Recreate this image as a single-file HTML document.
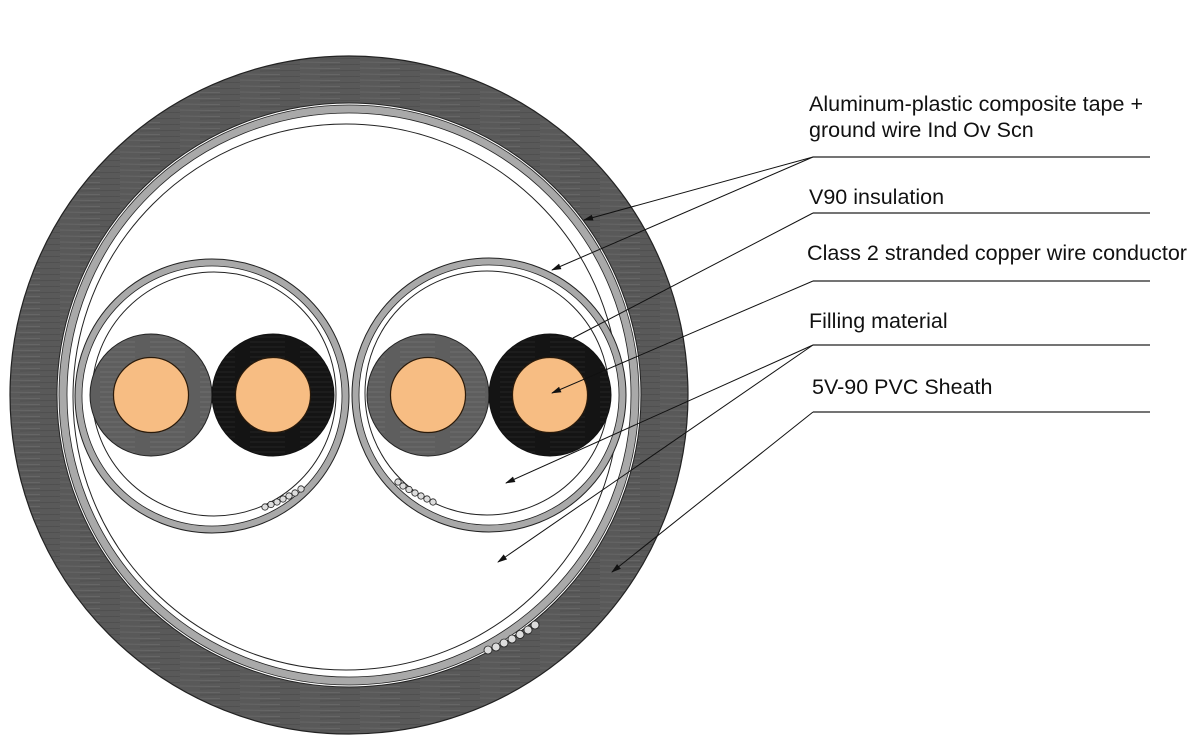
<!DOCTYPE html>
<html><head><meta charset="utf-8"><style>
html,body{margin:0;padding:0;background:#fff;}
svg{display:block;}
text{font-family:"Liberation Sans",Arial,sans-serif;font-size:21.5px;fill:#111;}
</style></head><body>
<svg width="1194" height="744" viewBox="0 0 1194 744" xmlns="http://www.w3.org/2000/svg">
<defs>
<marker id="ar" markerWidth="10" markerHeight="8" refX="9" refY="4" orient="auto" markerUnits="userSpaceOnUse">
<path d="M0,1 L10,4 L0,7 Z" fill="#111"/></marker>
<pattern id="st" width="60" height="6" patternUnits="userSpaceOnUse">
<rect width="60" height="6" fill="#595959"/>
<line x1="0" y1="2" x2="40" y2="2.5" stroke="#6a6a6a" stroke-width="0.8"/>
<line x1="20" y1="5" x2="60" y2="4.5" stroke="#4c4c4c" stroke-width="0.8"/>
</pattern>
<pattern id="bk" width="50" height="5" patternUnits="userSpaceOnUse">
<rect width="50" height="5" fill="#141414"/>
<line x1="0" y1="2" x2="35" y2="2" stroke="#2a2a2a" stroke-width="0.8"/>
</pattern>
<pattern id="gy" width="50" height="5" patternUnits="userSpaceOnUse">
<rect width="50" height="5" fill="#5e5e5e"/>
<line x1="0" y1="2" x2="35" y2="2" stroke="#727272" stroke-width="0.8"/>
</pattern>
</defs>

<circle cx="349" cy="395" r="339" fill="url(#st)" stroke="#222" stroke-width="1.2"/>
<circle cx="349" cy="395" r="292" fill="#fff" stroke="#222" stroke-width="1"/>
<circle cx="349" cy="395" r="290" fill="#a9a9a9" stroke="#222" stroke-width="0.8"/>
<circle cx="349" cy="395" r="282" fill="#fff" stroke="#222" stroke-width="0.8"/>
<circle cx="346" cy="397" r="273" fill="#fff" stroke="#222" stroke-width="1"/>

<circle cx="212" cy="396" r="137" fill="#a9a9a9" stroke="#222" stroke-width="1"/>
<circle cx="212" cy="396" r="130" fill="#fff" stroke="#222" stroke-width="0.8"/>
<circle cx="214" cy="394" r="122" fill="none" stroke="#222" stroke-width="1"/>
<circle cx="489" cy="395" r="137" fill="#a9a9a9" stroke="#222" stroke-width="1"/>
<circle cx="489" cy="395" r="130" fill="#fff" stroke="#222" stroke-width="0.8"/>
<circle cx="487" cy="393" r="122" fill="none" stroke="#222" stroke-width="1"/>

<circle cx="151" cy="395" r="61" fill="url(#gy)" stroke="#222" stroke-width="1"/>
<circle cx="151" cy="395" r="37.5" fill="#f7bd83" stroke="#2a1a0a" stroke-width="1.2"/>
<circle cx="273" cy="395" r="61" fill="url(#bk)" stroke="#111" stroke-width="1"/>
<circle cx="273" cy="395" r="37.5" fill="#f7bd83" stroke="#2a1a0a" stroke-width="1.2"/>
<circle cx="428" cy="395" r="61" fill="url(#gy)" stroke="#222" stroke-width="1"/>
<circle cx="428" cy="395" r="37.5" fill="#f7bd83" stroke="#2a1a0a" stroke-width="1.2"/>
<circle cx="550" cy="395" r="61" fill="url(#bk)" stroke="#111" stroke-width="1"/>
<circle cx="550" cy="395" r="37.5" fill="#f7bd83" stroke="#2a1a0a" stroke-width="1.2"/>

<g fill="#ddd" stroke="#222" stroke-width="0.8">
<circle cx="265" cy="507" r="3.2"/><circle cx="271" cy="504.5" r="3.2"/><circle cx="277" cy="502" r="3.2"/><circle cx="283" cy="499" r="3.2"/><circle cx="289" cy="496" r="3.2"/><circle cx="295" cy="493" r="3.2"/><circle cx="301" cy="489" r="3.2"/>
<circle cx="398" cy="482" r="3.2"/><circle cx="403" cy="486" r="3.2"/><circle cx="409" cy="489.5" r="3.2"/><circle cx="415" cy="493" r="3.2"/><circle cx="421" cy="496" r="3.2"/><circle cx="427" cy="499" r="3.2"/><circle cx="433" cy="502" r="3.2"/>
<circle cx="488" cy="650" r="4"/><circle cx="496" cy="647" r="4"/><circle cx="504" cy="643" r="4"/><circle cx="512" cy="639" r="4"/><circle cx="520" cy="634.5" r="4"/><circle cx="528" cy="630" r="4"/><circle cx="535" cy="625" r="4"/>
</g>

<text x="809" y="111">Aluminum-plastic composite tape +</text>
<text x="809" y="137">ground wire Ind Ov Scn</text>
<text x="809" y="204">V90 insulation</text>
<text x="807" y="260" textLength="380" lengthAdjust="spacingAndGlyphs">Class 2 stranded copper wire conductor</text>
<text x="809" y="328">Filling material</text>
<text x="812" y="394">5V-90 PVC Sheath</text>

<g stroke="#222" stroke-width="1.2" fill="none">
<line x1="813" y1="157" x2="1150" y2="157"/>
<line x1="813" y1="213" x2="1150" y2="213"/>
<line x1="813" y1="281" x2="1150" y2="281"/>
<line x1="813" y1="345" x2="1150" y2="345"/>
<line x1="813" y1="412" x2="1150" y2="412"/>
</g>
<g stroke="#111" stroke-width="1">
<line x1="813" y1="157" x2="584" y2="220" marker-end="url(#ar)"/>
<line x1="813" y1="157" x2="552" y2="270" marker-end="url(#ar)"/>
<line x1="813" y1="213" x2="573" y2="338"/>
<line x1="813" y1="281" x2="552" y2="393" marker-end="url(#ar)"/>
<line x1="813" y1="345" x2="506" y2="483" marker-end="url(#ar)"/>
<line x1="813" y1="345" x2="498" y2="562" marker-end="url(#ar)"/>
<line x1="813" y1="412" x2="612" y2="572" marker-end="url(#ar)"/>
</g>
</svg>
</body></html>
